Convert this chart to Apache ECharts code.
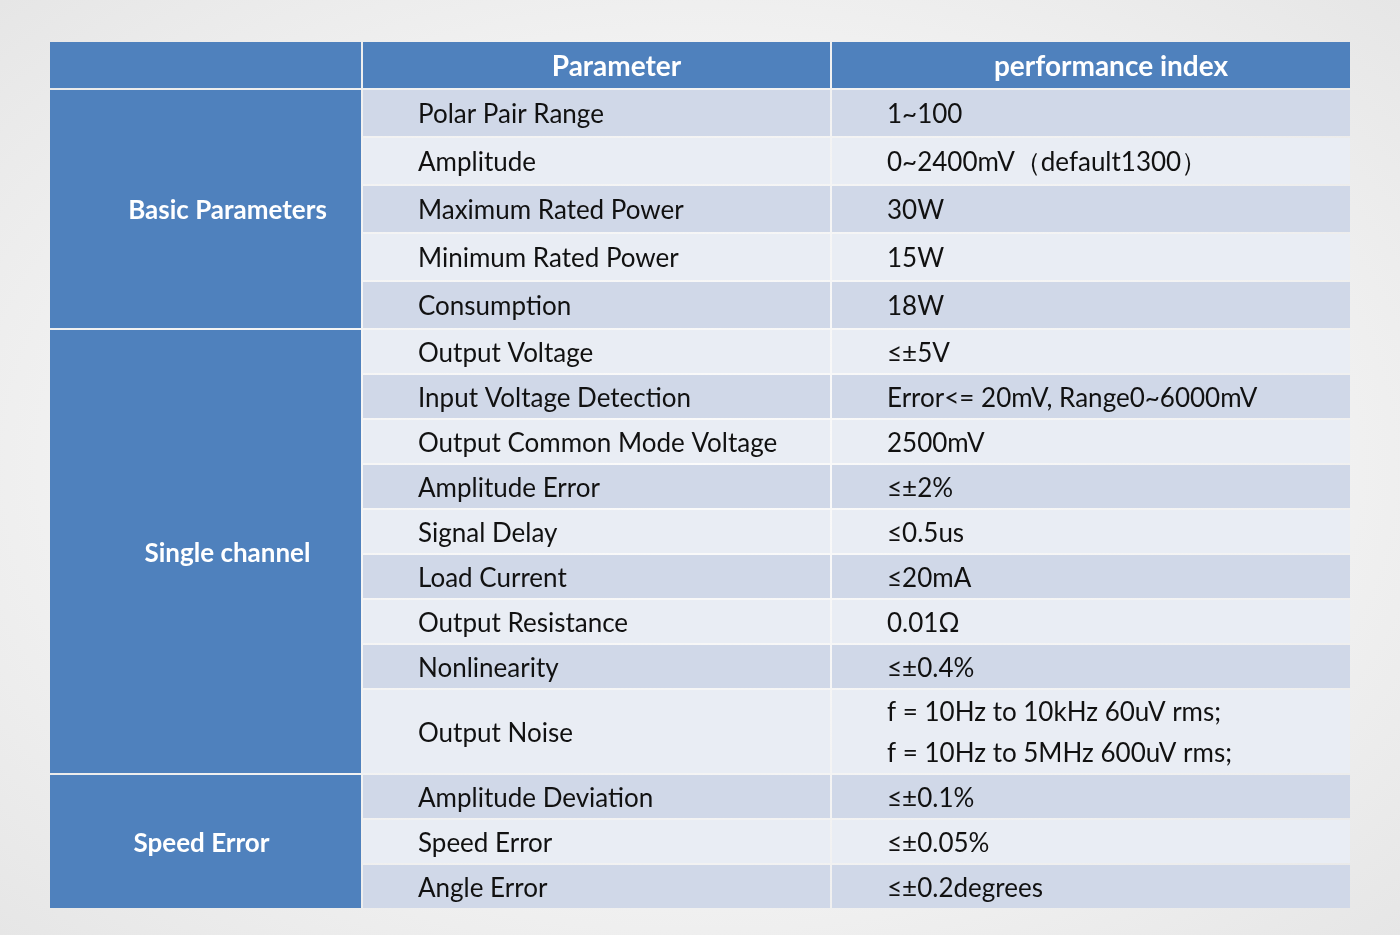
<!DOCTYPE html>
<html><head><meta charset="utf-8">
<script src="https://cdn.jsdelivr.net/npm/echarts@6/dist/echarts.min.js"></script>
<style>html,body{margin:0;padding:0;}#c{width:1400px;height:935px;background:radial-gradient(ellipse at center,#fbfbfb 0%,#f2f2f2 60%,#e6e6e6 100%);}</style>
</head><body><div id="c"></div>
<script>
const headers = ['', 'Parameter', 'performance index'];
const groups = ['Basic Parameters', 'Single channel', 'Speed Error'];
const groupSizes = [5, 9, 3];
const params = ['Polar Pair Range','Amplitude','Maximum Rated Power','Minimum Rated Power','Consumption',
 'Output Voltage','Input Voltage Detection','Output Common Mode Voltage','Amplitude Error','Signal Delay','Load Current','Output Resistance','Nonlinearity','Output Noise',
 'Amplitude Deviation','Speed Error','Angle Error'];
const values = ['1~100','0~2400mV（default1300）','30W','15W','18W',
 '≤±5V','Error<= 20mV, Range0~6000mV','2500mV','≤±2%','≤0.5us','≤20mA','0.01Ω','≤±0.4%','f = 10Hz to 10kHz 60uV rms;\nf = 10Hz to 5MHz 600uV rms;',
 '≤±0.1%','≤±0.05%','≤±0.2degrees'];

// layout (axis units = px)
const colX = [0, 311, 780, 1300];
const gap = 2, headH = 46;
const rowH = params.map((p, i) => i < 5 ? 46 : (values[i].includes('\n') ? 83 : 43));
const rowY = []; let y = headH + gap;
rowH.forEach(h => { rowY.push(y); y += h + gap; });
const total = y - gap;

const BLUE = '#4f81bd', DARK = '#d0d8e8', LIGHT = '#e9edf4';
const cells = [];
for (let c = 0; c < 3; c++) cells.push([colX[c] + (c ? gap : 0), colX[c + 1], 0, headH, headers[c], BLUE, 'head']);
let r = 0;
groups.forEach((g, gi) => {
  const y0 = rowY[r], y1 = rowY[r + groupSizes[gi] - 1] + rowH[r + groupSizes[gi] - 1];
  cells.push([0, colX[1], y0, y1, g, BLUE, 'group']);
  r += groupSizes[gi];
});
params.forEach((p, i) => {
  const fill = i % 2 === 0 ? DARK : LIGHT;
  cells.push([colX[1] + gap, colX[2], rowY[i], rowY[i] + rowH[i], p, fill, 'param']);
  cells.push([colX[2] + gap, colX[3], rowY[i], rowY[i] + rowH[i], values[i], fill, 'value']);
});

const chart = echarts.init(document.getElementById('c'));
chart.setOption({
  animation: false,
  grid: { left: 50, top: 42, width: 1300, height: total },
  xAxis: { type: 'value', min: 0, max: 1300, show: false },
  yAxis: { type: 'value', min: 0, max: total, inverse: true, show: false },
  series: [{
    type: 'custom',
    data: cells,
    renderItem: (params, api) => {
      const p0 = api.coord([api.value(0), api.value(2)]);
      const p1 = api.coord([api.value(1), api.value(3)]);
      const kind = cells[params.dataIndex][6];
      const text = cells[params.dataIndex][4];
      const fill = cells[params.dataIndex][5];
      let tx, align, font, color = '#111';
      if (kind === 'head') { tx = (p0[0] + p1[0]) / 2 + 20; align = 'center'; font = 'bold 28px Lato'; color = '#fff'; }
      else if (kind === 'group') { tx = (p0[0] + p1[0]) / 2 + 22; align = 'center'; font = 'bold 26px Lato'; color = '#fff'; }
      else { tx = p0[0] + 55; align = 'left'; font = '26px Lato'; }
      if (kind === 'group' && text === 'Speed Error') tx -= 26;
      return { type: 'group', children: [
        { type: 'rect', shape: { x: p0[0], y: p0[1], width: p1[0] - p0[0], height: p1[1] - p0[1] }, style: { fill } },
        { type: 'text', style: { text, x: tx, y: (p0[1] + p1[1]) / 2 + 2, align, verticalAlign: 'middle', font, fill: color, lineHeight: 41 } }
      ]};
    }
  }]
});
</script></body></html>
